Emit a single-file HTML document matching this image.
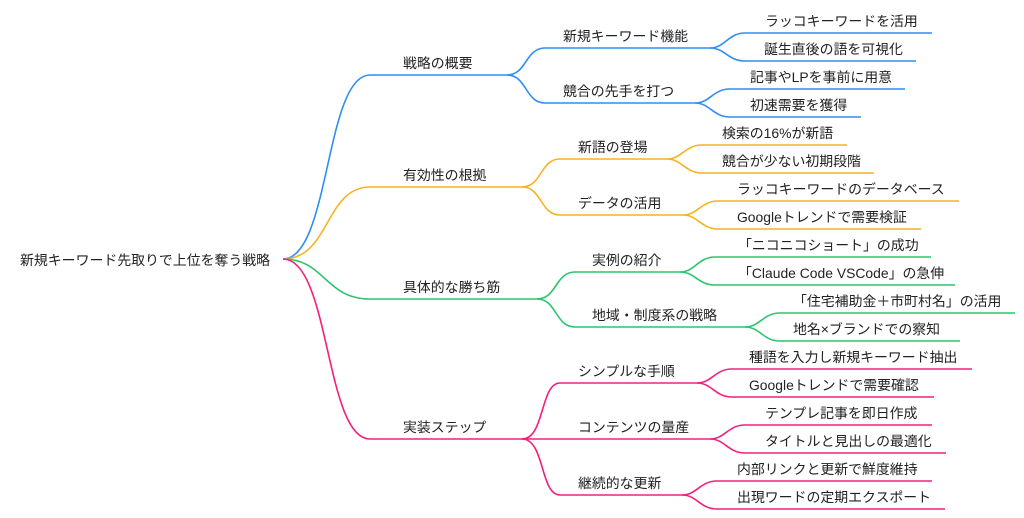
<!DOCTYPE html>
<html><head><meta charset="utf-8"><style>
html,body{margin:0;padding:0;background:#fff;}
svg{display:block;}
text{font-family:"Liberation Sans","Noto Sans CJK JP",sans-serif;font-size:13.9px;fill:#222;}
path{fill:none;stroke-width:1.6;}
.b{stroke:#2f8df6}.o{stroke:#f6b223}.g{stroke:#2cc46d}.p{stroke:#f2207c}
</style></head><body>
<svg width="1024" height="518" viewBox="0 0 1024 518">
<text x="20" y="265">新規キーワード先取りで上位を奪う戦略</text>

<path class="b" d="M283 259 C330 259 325 75 370 75 L507 75"/>
<path class="o" d="M283 259 C330 259 325 187 370 187 L522 187"/>
<path class="g" d="M283 259 C325 259 325 299 370 299 L537 299"/>
<path class="p" d="M283 259 C330 259 325 439 370 439 L522 439"/>
<text x="403" y="68">戦略の概要</text>
<text x="403" y="180">有効性の根拠</text>
<text x="403" y="292">具体的な勝ち筋</text>
<text x="403" y="432">実装ステップ</text>

<path class="b" d="M507 75 C527 75 525 48 545 48 L710 48"/>
<path class="b" d="M507 75 C527 75 525 103 545 103 L695 103"/>
<text x="563" y="41">新規キーワード機能</text>
<text x="563" y="96">競合の先手を打つ</text>

<path class="o" d="M522 187 C542 187 540 159 560 159 L667 159"/>
<path class="o" d="M522 187 C542 187 540 215 560 215 L683 215"/>
<text x="578" y="152">新語の登場</text>
<text x="578" y="208">データの活用</text>

<path class="g" d="M537 299 C557 299 555 272 575 272 L680 272"/>
<path class="g" d="M537 299 C557 299 555 327 575 327 L745 327"/>
<text x="592" y="265">実例の紹介</text>
<text x="592" y="320">地域・制度系の戦略</text>

<path class="p" d="M522 439 C545 439 540 383 560 383 L697 383"/>
<path class="p" d="M522 439 L710 439"/>
<path class="p" d="M522 439 C545 439 540 495 560 495 L682 495"/>
<text x="578" y="376">シンプルな手順</text>
<text x="578" y="432">コンテンツの量産</text>
<text x="578" y="488">継続的な更新</text>

<path class="b" d="M710 48 C725 48 728 33 745 33 L932 33"/>
<path class="b" d="M710 48 C725 48 728 61 745 61 L916 61"/>
<text x="765" y="26">ラッコキーワードを活用</text>
<text x="764" y="54">誕生直後の語を可視化</text>

<path class="b" d="M695 103 C710 103 713 89 730 89 L905 89"/>
<path class="b" d="M695 103 C710 103 713 117 730 117 L861 117"/>
<text x="750" y="82">記事やLPを事前に用意</text>
<text x="750" y="110">初速需要を獲得</text>

<path class="o" d="M667 159 C682 159 685 145 702 145 L847 145"/>
<path class="o" d="M667 159 C682 159 685 173 702 173 L874 173"/>
<text x="722" y="138">検索の16%が新語</text>
<text x="722" y="166">競合が少ない初期段階</text>

<path class="o" d="M683 215 C698 215 701 201 718 201 L959 201"/>
<path class="o" d="M683 215 C698 215 701 229 718 229 L921 229"/>
<text x="737" y="194">ラッコキーワードのデータベース</text>
<text x="737" y="222">Googleトレンドで需要検証</text>

<path class="g" d="M680 272 C695 272 698 257 715 257 L931 257"/>
<path class="g" d="M680 272 C695 272 698 285 715 285 L955 285"/>
<text x="738" y="250">「ニコニコショート」の成功</text>
<text x="738" y="278">「Claude Code VSCode」の急伸</text>

<path class="g" d="M745 327 C760 327 763 313 780 313 L1015 313"/>
<path class="g" d="M745 327 C760 327 763 341 780 341 L960 341"/>
<text x="793" y="306">「住宅補助金＋市町村名」の活用</text>
<text x="793" y="334">地名×ブランドでの察知</text>

<path class="p" d="M697 383 C712 383 715 369 732 369 L972 369"/>
<path class="p" d="M697 383 C712 383 715 397 732 397 L934 397"/>
<text x="749" y="362">種語を入力し新規キーワード抽出</text>
<text x="749" y="390">Googleトレンドで需要確認</text>

<path class="p" d="M710 439 C725 439 728 425 745 425 L932 425"/>
<path class="p" d="M710 439 C725 439 728 453 745 453 L946 453"/>
<text x="765" y="418">テンプレ記事を即日作成</text>
<text x="765" y="446">タイトルと見出しの最適化</text>

<path class="p" d="M682 495 C697 495 700 481 717 481 L932 481"/>
<path class="p" d="M682 495 C697 495 700 509 717 509 L945 509"/>
<text x="737" y="474">内部リンクと更新で鮮度維持</text>
<text x="737" y="502">出現ワードの定期エクスポート</text>
</svg>
</body></html>
